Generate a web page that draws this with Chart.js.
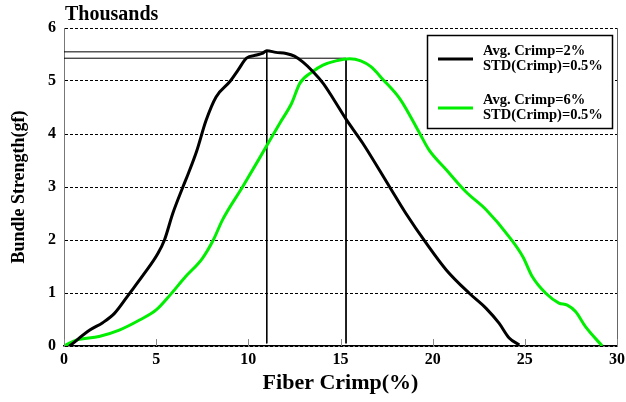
<!DOCTYPE html>
<html>
<head>
<meta charset="utf-8">
<script src="https://cdn.jsdelivr.net/npm/chart.js@4/dist/chart.umd.min.js"></script>
<style>
  html, body { margin: 0; padding: 0; background: #fff; }
  #wrap { width: 626px; height: 402px; }
</style>
</head>
<body>
<div id="wrap"><canvas id="grafico" width="626" height="402"></canvas></div>
<script>
// Datos (x = crimp %, y = miles de gf)
const crimp2X = [0.3, 1.4, 2.1, 2.75, 3.55, 4.3, 5.1, 5.45, 5.9, 6.45, 6.75, 7.2, 7.7, 8.25, 9.0, 9.45, 9.9, 10.45, 10.75, 11.0, 11.5, 12.05, 12.5, 12.95, 13.5, 14.05, 14.6, 15.3, 16.2, 17.65, 18.55, 19.65, 20.75, 22.0, 22.9, 23.6, 24.15, 24.7];
const crimp2Y = [0, 0.3, 0.44, 0.62, 0.99, 1.34, 1.75, 2.0, 2.5, 3.0, 3.26, 3.68, 4.25, 4.7, 4.99, 5.21, 5.43, 5.49, 5.52, 5.57, 5.54, 5.52, 5.47, 5.36, 5.18, 4.96, 4.67, 4.28, 3.83, 3.01, 2.5, 1.94, 1.43, 0.99, 0.71, 0.43, 0.15, 0.02];

const crimp6X = [0, 0.65, 1.9, 3.0, 4.1, 5.0, 5.75, 6.6, 7.5, 8.1, 8.6, 9.7, 10.6, 11.7, 12.35, 12.8, 13.5, 14.05, 14.75, 15.5, 16.1, 16.65, 17.3, 18.25, 19.3, 19.8, 20.75, 21.8, 22.9, 24.15, 24.9, 25.4, 26.15, 26.85, 27.3, 27.75, 28.3, 29.2];
const crimp6Y = [0, 0.11, 0.18, 0.3, 0.49, 0.68, 0.96, 1.31, 1.65, 2.0, 2.38, 3.01, 3.54, 4.2, 4.58, 4.96, 5.18, 5.3, 5.38, 5.42, 5.38, 5.27, 5.03, 4.65, 4.01, 3.7, 3.32, 2.91, 2.57, 2.06, 1.68, 1.31, 0.99, 0.81, 0.77, 0.65, 0.36, 0.0];

// Lineas de referencia en los picos
const pico2 = { x: 11.0, y: 5.55 };
const pico6 = { x: 15.3, y: 5.43 };

const leyendas = [
  ['Avg. Crimp=2%', 'STD(Crimp)=0.5%'],
  ['Avg. Crimp=6%', 'STD(Crimp)=0.5%']
];
const colores = ['#000000', '#00ee00'];

const serif = "'Liberation Serif', 'DejaVu Serif', serif";

function puntos(xs, ys) {
  return xs.map((x, i) => ({ x, y: ys[i] }));
}

function lineaRef(p) {
  return [{ x: 0, y: p.y }, { x: p.x, y: p.y }, { x: p.x, y: 0.05 }];
}

// Plugin: leyenda, borde derecho, marcas del eje x y "Thousands"
const extras = {
  id: 'extras',
  afterDatasetsDraw(chart) {
    const ctx = chart.ctx;
    const area = chart.chartArea;
    const escalaX = chart.scales.x;
    ctx.save();

    // borde derecho
    ctx.strokeStyle = '#666';
    ctx.lineWidth = 1;
    ctx.beginPath();
    ctx.moveTo(area.right + 0.5, area.top);
    ctx.lineTo(area.right + 0.5, area.bottom);
    ctx.stroke();

    // marcas cortas hacia adentro en el eje x
    ctx.strokeStyle = '#888';
    escalaX.ticks.forEach(t => {
      const px = Math.round(escalaX.getPixelForValue(t.value)) + 0.5;
      ctx.beginPath();
      ctx.moveTo(px, area.bottom);
      ctx.lineTo(px, area.bottom - 7);
      ctx.stroke();
    });

    // caja de leyenda
    const bx = 427.5, by = 35.5, bw = 185, bh = 93;
    ctx.fillStyle = '#fff';
    ctx.fillRect(bx, by, bw, bh);
    ctx.strokeStyle = '#000';
    ctx.lineWidth = 1.5;
    ctx.strokeRect(bx, by, bw, bh);

    ctx.font = 'bold 14.5px ' + serif;
    ctx.textBaseline = 'middle';
    ctx.textAlign = 'left';
    const filas = [59, 108];
    leyendas.forEach((texto, i) => {
      const cy = filas[i];
      ctx.strokeStyle = colores[i];
      ctx.lineWidth = 3;
      ctx.beginPath();
      ctx.moveTo(438, cy);
      ctx.lineTo(473, cy);
      ctx.stroke();
      ctx.fillStyle = '#000';
      ctx.fillText(texto[0], 483, cy - 8);
      ctx.fillText(texto[1], 483, cy + 7);
    });

    // "Thousands"
    ctx.font = 'bold 20px ' + serif;
    ctx.textBaseline = 'alphabetic';
    ctx.fillText('Thousands', 65, 20);
    ctx.restore();
  }
};

const ctx = document.getElementById('grafico').getContext('2d');
new Chart(ctx, {
  type: 'scatter',
  data: {
    datasets: [
      { data: puntos(crimp2X, crimp2Y), borderColor: colores[0], borderWidth: 3, showLine: true, pointRadius: 0, cubicInterpolationMode: 'monotone' },
      { data: puntos(crimp6X, crimp6Y), borderColor: colores[1], borderWidth: 3, showLine: true, pointRadius: 0, cubicInterpolationMode: 'monotone' },
      { data: lineaRef(pico2), borderColor: '#000', borderWidth: 1, showLine: true, pointRadius: 0 },
      { data: lineaRef(pico6), borderColor: '#000', borderWidth: 1, showLine: true, pointRadius: 0 }
    ]
  },
  options: {
    responsive: false,
    animation: false,
    layout: { padding: { top: 28, right: 0, left: 0, bottom: 0 } },
    plugins: { legend: { display: false }, tooltip: { enabled: false } },
    scales: {
      x: {
        type: 'linear',
        min: 0,
        max: 30,
        afterFit: s => { s.height = 56; s.paddingRight = 9; },
        ticks: { stepSize: 5, color: '#000', padding: 4, font: { family: serif, size: 16, weight: 'bold' } },
        grid: { drawOnChartArea: false, drawTicks: false },
        border: { color: '#000', width: 1.5 },
        title: { display: true, text: 'Fiber Crimp(%)', color: '#000', padding: { top: 0, bottom: 5 }, font: { family: serif, size: 22, weight: 'bold' } }
      },
      y: {
        min: 0,
        max: 6,
        afterFit: s => { s.width = 64; },
        ticks: { stepSize: 1, color: '#000', padding: 8, font: { family: serif, size: 16, weight: 'bold' } },
        grid: { color: '#000', lineWidth: 1, drawTicks: false },
        border: { color: '#777', width: 1, dash: [3, 2] },
        title: { display: true, text: 'Bundle Strength(gf)', color: '#000', padding: { top: 9, bottom: 0 }, font: { family: serif, size: 18, weight: 'bold' } }
      }
    }
  },
  plugins: [extras]
});
</script>
</body>
</html>
